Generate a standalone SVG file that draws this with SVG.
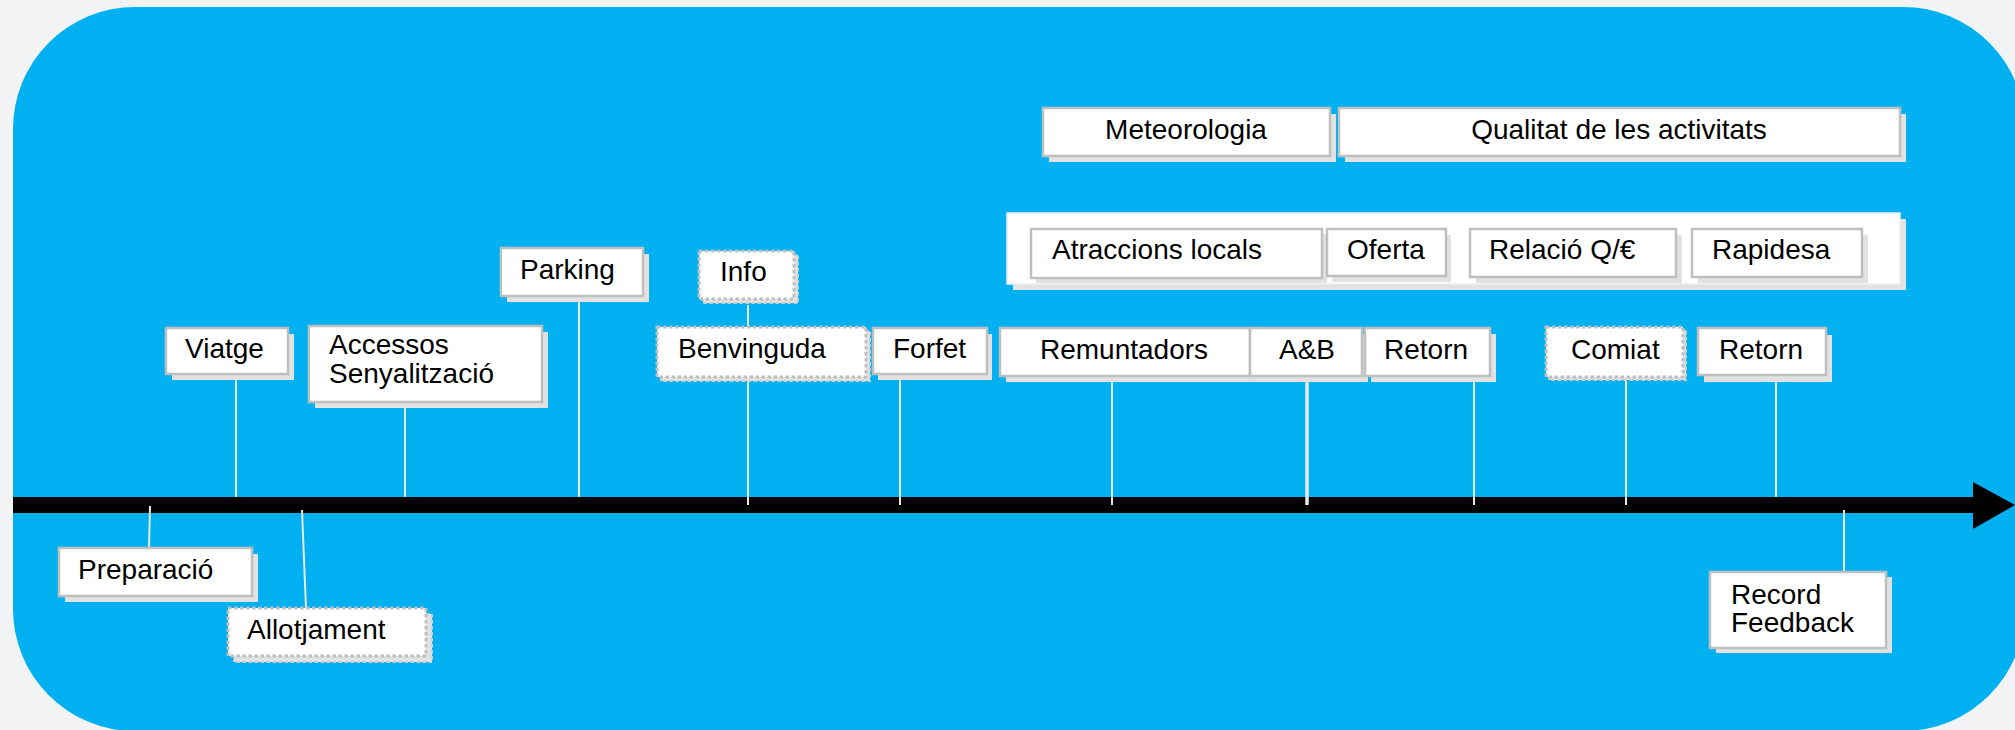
<svg xmlns="http://www.w3.org/2000/svg" width="2015" height="730" viewBox="0 0 2015 730">
<style>
  .bg{fill:#f2f3f4}
  .panel{fill:#00b0f0}
  .sh{fill:#e2e2e2}
  .box{fill:#ffffff;stroke:#bfbfbf;stroke-width:2.5}
  .dbox{fill:#ffffff;stroke:#bfbfbf;stroke-width:3;stroke-dasharray:3.5 2.5}
  .dsh{fill:#e2e2e2;stroke:#cfcfcf;stroke-width:2;stroke-dasharray:3.5 2.5}
  .cont{fill:#ffffff;stroke:#ececec;stroke-width:1.5}
  .t{font-family:"Liberation Sans",Arial,sans-serif;font-size:28px;fill:#000000}
  .tc{font-family:"Liberation Sans",Arial,sans-serif;font-size:28px;fill:#000000;text-anchor:middle}
  .ln{stroke:#e8e8e8;stroke-width:2;fill:none}
</style>
<rect class="bg" x="0" y="0" width="2015" height="730"/>
<rect class="panel" x="13" y="7" width="2012" height="724" rx="122" ry="122"/>

<g id="axis">
  <rect x="13" y="497" width="1961" height="16" fill="#000000"/>
  <polygon points="1973,482 2015,505 1973,529" fill="#000000"/>
</g>

<g id="n-top-meteo">
  <rect class="sh" x="1049" y="114" width="287" height="48"/>
  <rect class="box" x="1043" y="108" width="287" height="48"/>
  <text class="tc" x="1186" y="139">Meteorologia</text>
</g>
<g id="n-top-qualitat">
  <rect class="sh" x="1345" y="114" width="561" height="48"/>
  <rect class="box" x="1339" y="108" width="561" height="48"/>
  <text class="tc" x="1619" y="139">Qualitat de les activitats</text>
</g>

<g id="n-container">
  <rect class="sh" x="1013" y="219" width="893" height="71"/>
  <rect class="cont" x="1007" y="213" width="893" height="71"/>
</g>
<g id="n-atraccions">
  <rect class="sh" x="1036" y="234" width="291" height="49"/>
  <rect class="box" x="1031" y="229" width="291" height="49"/>
  <text class="t" x="1052" y="259">Atraccions locals</text>
</g>
<g id="n-oferta">
  <rect class="sh" x="1332" y="235" width="119" height="47"/>
  <rect class="box" x="1327" y="229" width="119" height="47"/>
  <text class="t" x="1347" y="259">Oferta</text>
</g>
<g id="n-relacio">
  <rect class="sh" x="1476" y="235" width="206" height="48"/>
  <rect class="box" x="1470" y="229" width="206" height="48"/>
  <text class="t" x="1489" y="259">Relació Q/€</text>
</g>
<g id="n-rapidesa">
  <rect class="sh" x="1698" y="235" width="170" height="48"/>
  <rect class="box" x="1692" y="229" width="170" height="48"/>
  <text class="t" x="1712" y="259">Rapidesa</text>
</g>

<g id="connectors">
  <line class="ln" x1="150" y1="506" x2="149" y2="548"/>
  <line class="ln" x1="236" y1="380" x2="236" y2="497"/>
  <line class="ln" x1="302" y1="510" x2="306" y2="608"/>
  <line class="ln" x1="405" y1="408" x2="405" y2="497"/>
  <line class="ln" x1="579" y1="302" x2="579" y2="497"/>
  <line class="ln" x1="748" y1="305" x2="748" y2="327"/>
  <line class="ln" x1="748" y1="381" x2="748" y2="505"/>
  <line class="ln" x1="900" y1="380" x2="900" y2="505"/>
  <line class="ln" x1="1112" y1="382" x2="1112" y2="505"/>
  <line class="ln" x1="1307" y1="382" x2="1307" y2="505" style="stroke-width:3.5"/>
  <line class="ln" x1="1474" y1="382" x2="1474" y2="505"/>
  <line class="ln" x1="1626" y1="380" x2="1626" y2="505"/>
  <line class="ln" x1="1776" y1="382" x2="1776" y2="497"/>
  <line class="ln" x1="1844" y1="510" x2="1844" y2="572"/>
</g>

<g id="n-preparacio">
  <rect class="sh" x="65" y="554" width="193" height="48"/>
  <rect class="box" x="59" y="548" width="193" height="48"/>
  <text class="t" x="78" y="579">Preparació</text>
</g>
<g id="n-viatge">
  <rect class="sh" x="172" y="334" width="122" height="46"/>
  <rect class="box" x="166" y="328" width="122" height="46"/>
  <text class="t" x="185" y="358">Viatge</text>
</g>
<g id="n-allotjament">
  <rect class="dsh" x="234" y="614" width="198" height="48"/>
  <rect class="dbox" x="228" y="608" width="198" height="48"/>
  <text class="t" x="247" y="639">Allotjament</text>
</g>
<g id="n-accessos">
  <rect class="sh" x="315" y="332" width="233" height="76"/>
  <rect class="box" x="309" y="326" width="233" height="76"/>
  <text class="t" x="329" y="354">Accessos</text>
  <text class="t" x="329" y="383">Senyalització</text>
</g>
<g id="n-parking">
  <rect class="sh" x="507" y="254" width="142" height="48"/>
  <rect class="box" x="501" y="248" width="142" height="48"/>
  <text class="t" x="520" y="279">Parking</text>
</g>
<g id="n-info">
  <rect class="dsh" x="703" y="255" width="95" height="48"/>
  <rect class="dbox" x="699" y="251" width="95" height="48"/>
  <text class="t" x="720" y="281">Info</text>
</g>
<g id="n-benvinguda">
  <rect class="dsh" x="661" y="331" width="209" height="50"/>
  <rect class="dbox" x="657" y="327" width="209" height="50"/>
  <text class="t" x="678" y="358">Benvinguda</text>
</g>
<g id="n-forfet">
  <rect class="sh" x="878" y="334" width="114" height="46"/>
  <rect class="box" x="873" y="328" width="114" height="46"/>
  <text class="t" x="893" y="358">Forfet</text>
</g>
<g id="n-remuntadors">
  <rect class="sh" x="1006" y="334" width="250" height="48"/>
  <rect class="box" x="1000" y="328" width="250" height="48"/>
  <text class="t" x="1040" y="359">Remuntadors</text>
</g>
<g id="n-ab">
  <rect class="sh" x="1256" y="334" width="112" height="48"/>
  <rect class="box" x="1250" y="328" width="112" height="48"/>
  <text class="t" x="1279" y="359">A&amp;B</text>
</g>
<g id="n-retorn1">
  <rect class="sh" x="1371" y="334" width="125" height="48"/>
  <rect class="box" x="1365" y="328" width="125" height="48"/>
  <text class="t" x="1384" y="359">Retorn</text>
</g>
<g id="n-comiat">
  <rect class="dsh" x="1549" y="330" width="137" height="50"/>
  <rect class="dbox" x="1546" y="327" width="137" height="50"/>
  <text class="t" x="1571" y="359">Comiat</text>
</g>
<g id="n-retorn2">
  <rect class="sh" x="1704" y="335" width="128" height="47"/>
  <rect class="box" x="1698" y="328" width="128" height="47"/>
  <text class="t" x="1719" y="359">Retorn</text>
</g>
<g id="n-record">
  <rect class="sh" x="1716" y="577" width="176" height="76"/>
  <rect class="box" x="1710" y="572" width="176" height="76"/>
  <text class="t" x="1731" y="604">Record</text>
  <text class="t" x="1731" y="632">Feedback</text>
</g>
</svg>
